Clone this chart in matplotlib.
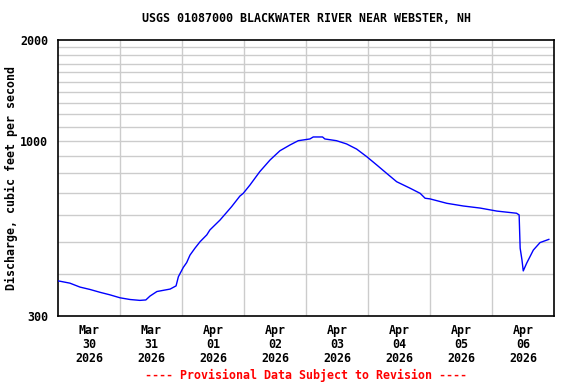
import numpy as np
import matplotlib
matplotlib.use("Agg")
import matplotlib.pyplot as plt
from matplotlib.ticker import FixedLocator, NullFormatter, NullLocator

# hours since 2026-03-30 00:00, discharge in cfs
hours = [0, 4.6, 8.5, 12.4, 16.3, 20.1, 24, 27.9, 31.7, 34, 35.6, 38.3, 43.4, 45.7,
         46.6, 48.5, 49.8, 51.1, 53.0, 55.0, 57.6, 58.8, 62.7, 67.2, 70.4, 71.7,
         74.3, 78.1, 82.1, 85.9, 89.8, 93.0, 97.5, 98.8, 102.4, 103.3, 107.8,
         111.7, 115.6, 119.5, 123.4, 127.2, 131.1, 136.3, 140.2, 142.1, 144.0,
         150.5, 156.9, 163.4, 169.9, 177.5, 178.5, 178.9, 179.6, 180.1, 181.4,
         184.0, 186.6, 190.0]
flow = [382, 376, 366, 360, 353, 347, 340, 336, 334, 335, 344, 355, 361, 369,
        393, 419, 433, 456, 478, 500, 524, 542, 580, 636, 684, 697,
        738, 809, 877, 934, 972, 1001, 1013, 1027, 1027, 1013, 1001,
        979, 945, 897, 847, 800, 755, 722, 697, 674, 671,
        651, 639, 630, 617, 608, 601, 478, 441, 409, 431,
        472, 497, 508]

day_labels = ["Mar\n30\n2026", "Mar\n31\n2026", "Apr\n01\n2026", "Apr\n02\n2026",
              "Apr\n03\n2026", "Apr\n04\n2026", "Apr\n05\n2026", "Apr\n06\n2026"]
y_labels = [300, 1000, 2000]
y_grid = [400, 500, 600, 700, 800, 900, 1100, 1200, 1300, 1400, 1500, 1600, 1700, 1800, 1900]

font = dict(family="DejaVu Sans Mono", fontweight="bold", fontsize=8.4)

fig = plt.figure(figsize=(5.76, 3.84), dpi=100)
ax = fig.add_axes([58 / 576, 1 - 316 / 384, 496 / 576, 276 / 384])

ax.plot(hours, flow, color="#0000ff", lw=1.0, zorder=3)

ax.set_yscale("log")
ax.set_ylim(300, 2000)
ax.set_xlim(0, 192)

# grid lines
for g in y_grid + [1000]:
    ax.axhline(g, color="#cccccc", lw=1, zorder=1)
for d in range(1, 8):
    ax.axvline(d * 24, color="#cccccc", lw=1, zorder=1)

ax.yaxis.set_major_locator(FixedLocator(y_labels))
ax.yaxis.set_minor_locator(NullLocator())
ax.set_yticklabels([str(v) for v in y_labels], **font)
ax.yaxis.set_minor_formatter(NullFormatter())

ax.set_xticks([12 + 24 * i for i in range(8)])
ax.set_xticklabels(day_labels, linespacing=1.1, **font)
ax.tick_params(length=0)
ax.tick_params(axis="y", pad=7)
ax.tick_params(axis="x", pad=6)

for s in ax.spines.values():
    s.set_linewidth(1.2)
    s.set_color("black")

ax.set_ylabel("Discharge, cubic feet per second", **font)
ax.yaxis.set_label_coords((18 - 58) / 496, 0.5)
fig.text(306 / 576, 1 - 19 / 384, "USGS 01087000 BLACKWATER RIVER NEAR WEBSTER, NH",
         ha="center", va="center", **font)
fig.text(306 / 576, 1 - 375 / 384, "---- Provisional Data Subject to Revision ----",
         ha="center", va="center", color="#ff0000", **font)

fig.savefig("out.png", dpi=100)
